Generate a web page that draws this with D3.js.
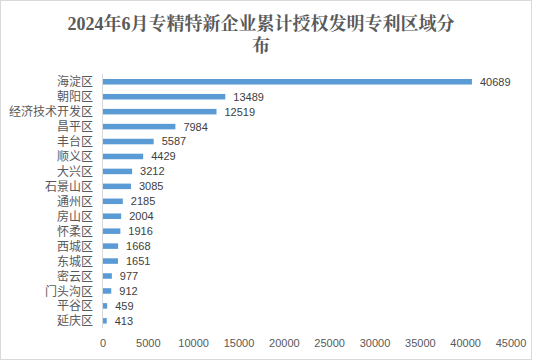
<!DOCTYPE html>
<html><head><meta charset="utf-8">
<script src="https://cdn.jsdelivr.net/npm/d3@7"></script>
<style>body{margin:0;background:#fff}svg{display:block}</style>
</head><body>
<script>
const categories = ["海淀区","朝阳区","经济技术开发区","昌平区","丰台区","顺义区","大兴区","石景山区","通州区","房山区","怀柔区","西城区","东城区","密云区","门头沟区","平谷区","延庆区"];
const values = [40689,13489,12519,7984,5587,4429,3212,3085,2185,2004,1916,1668,1651,977,912,459,413];
const xTicks = [0,5000,10000,15000,20000,25000,30000,35000,40000,45000];
const titleLines = ["2024年6月专精特新企业累计授权发明专利区域分","布"];

const W = 533, H = 361;
const svg = d3.select("body").append("svg").attr("width", W).attr("height", H);
svg.append("rect").attr("x",0.5).attr("y",0.5).attr("width",531).attr("height",359)
  .attr("fill","#fff").attr("stroke","#d9d9d9");

const x = d3.scaleLinear().domain([0,45000]).range([103,511]);
const y = d3.scaleBand().domain(categories).range([74.3,328.3]).paddingInner(0.63).paddingOuter(0.315);

const tf = "'Liberation Sans','Noto Sans CJK SC',sans-serif";

svg.append("text").attr("text-anchor","middle").attr("fill","#595959")
  .attr("font-family","'Liberation Serif','Noto Serif CJK SC','Noto Sans CJK SC',serif")
  .attr("font-weight","bold").attr("font-size",18)
  .selectAll("tspan").data(titleLines).join("tspan")
  .attr("x",261).attr("y",(d,i)=>29.5+i*22.5).text(d=>d);

svg.append("g").selectAll("rect").data(values).join("rect")
  .attr("x",x(0)).attr("y",(d,i)=>y(categories[i]))
  .attr("width",d=>x(d)-x(0)).attr("height",y.bandwidth())
  .attr("fill","#5b9bd5");

svg.append("line").attr("x1",102.5).attr("x2",102.5).attr("y1",74).attr("y2",328)
  .attr("stroke","#d9d9d9");

svg.append("g").selectAll("text").data(values).join("text")
  .attr("x",d=>x(d)+8).attr("y",(d,i)=>y(categories[i])+y.bandwidth()/2)
  .attr("dy","0.36em").attr("font-family",tf).attr("font-size",11).attr("fill","#404040")
  .text(d=>d);

svg.append("g").selectAll("text").data(categories).join("text")
  .attr("x",93).attr("y",d=>y(d)+y.bandwidth()/2).attr("dy","0.38em")
  .attr("text-anchor","end").attr("font-family",tf).attr("font-size",12).attr("fill","#595959")
  .text(d=>d);

svg.append("g").selectAll("text").data(xTicks).join("text")
  .attr("x",d=>x(d)).attr("y",347).attr("text-anchor","middle")
  .attr("font-family",tf).attr("font-size",11).attr("fill","#595959")
  .text(d=>d);
</script>
</body></html>
